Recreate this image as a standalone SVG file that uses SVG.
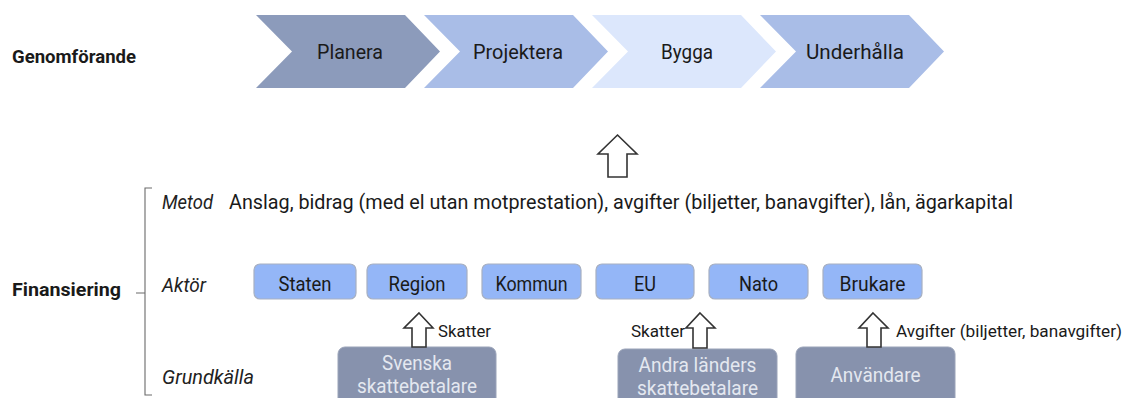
<svg xmlns="http://www.w3.org/2000/svg" width="1128" height="398" viewBox="0 0 1128 398">
<style>
text{font-family:Roboto,"Liberation Sans",sans-serif;fill:#1a1a1a}
.h{font-weight:bold;font-size:18px}
.ch{font-size:21px}
.it{font-style:italic;font-size:20px;fill:#222}
.m{font-size:20px}
.bl{font-size:20px}
.gt{font-size:20px;fill:#e4e8f0}
.sm{font-size:17px}
.blue{fill:#94b6f7;stroke:#a7b0c2;stroke-width:1.2}
.gray{fill:#8792ad;stroke:#9aa3b8;stroke-width:1}
.arr{fill:#fff;stroke:#333;stroke-width:1.6;stroke-linejoin:miter}
.br{fill:none;stroke:#6a6a6a;stroke-width:1.1}
</style>
<rect width="1128" height="398" fill="#fff"/>
<text class="h" x="12" y="63" textLength="124" lengthAdjust="spacingAndGlyphs">Genomförande</text>
<text class="h" x="12" y="296" textLength="109" lengthAdjust="spacingAndGlyphs">Finansiering</text>
<g id="planera">
<polygon points="256,15 405,15 440,51.5 405,88 256,88 292,51.5" fill="#8c9bbb"/>
<text class="ch" x="350" y="59" text-anchor="middle" textLength="66" lengthAdjust="spacingAndGlyphs">Planera</text>
</g>
<g id="projektera">
<polygon points="424,15 573,15 608,51.5 573,88 424,88 460,51.5" fill="#a9bde7"/>
<text class="ch" x="518" y="59" text-anchor="middle" textLength="90" lengthAdjust="spacingAndGlyphs">Projektera</text>
</g>
<g id="bygga">
<polygon points="592,15 741,15 776,51.5 741,88 592,88 628,51.5" fill="#dce7fc"/>
<text class="ch" x="687" y="59" text-anchor="middle" textLength="52" lengthAdjust="spacingAndGlyphs">Bygga</text>
</g>
<g id="underhalla">
<polygon points="760,15 909,15 944,51.5 909,88 760,88 796,51.5" fill="#a9bde7"/>
<text class="ch" x="855" y="59" text-anchor="middle" textLength="98" lengthAdjust="spacingAndGlyphs">Underhålla</text>
</g>
<g id="bracket">
<path class="br" d="M152,188 H145 V395 H152 M145,293 H136"/>
</g>
<g id="labels">
<text class="it" x="162" y="209" textLength="51" lengthAdjust="spacingAndGlyphs">Metod</text>
<text class="m" x="229" y="209" textLength="784" lengthAdjust="spacingAndGlyphs">Anslag, bidrag (med el utan motprestation), avgifter (biljetter, banavgifter), lån, ägarkapital</text>
<text class="it" x="162" y="292" textLength="44" lengthAdjust="spacingAndGlyphs">Aktör</text>
<text class="it" x="162" y="384" textLength="92" lengthAdjust="spacingAndGlyphs">Grundkälla</text>
</g>
<g id="staten"><rect class="blue" x="254" y="264" width="102" height="35" rx="6"/><text class="bl" x="305" y="291" text-anchor="middle" textLength="53" lengthAdjust="spacingAndGlyphs">Staten</text></g>
<g id="region"><rect class="blue" x="367" y="264" width="100" height="35" rx="6"/><text class="bl" x="417" y="291" text-anchor="middle" textLength="57" lengthAdjust="spacingAndGlyphs">Region</text></g>
<g id="kommun"><rect class="blue" x="482" y="264" width="99" height="35" rx="6"/><text class="bl" x="531.5" y="291" text-anchor="middle" textLength="72" lengthAdjust="spacingAndGlyphs">Kommun</text></g>
<g id="eu"><rect class="blue" x="596" y="264" width="98" height="35" rx="6"/><text class="bl" x="645" y="291" text-anchor="middle" textLength="22" lengthAdjust="spacingAndGlyphs">EU</text></g>
<g id="nato"><rect class="blue" x="709" y="264" width="99" height="35" rx="6"/><text class="bl" x="758.5" y="291" text-anchor="middle" textLength="39" lengthAdjust="spacingAndGlyphs">Nato</text></g>
<g id="brukare"><rect class="blue" x="823" y="264" width="99" height="35" rx="6"/><text class="bl" x="872.5" y="291" text-anchor="middle" textLength="66" lengthAdjust="spacingAndGlyphs">Brukare</text></g>
<g id="svenska"><rect class="gray" x="338" y="347" width="158" height="60" rx="7"/>
<text class="gt" x="417" y="370" text-anchor="middle" textLength="70" lengthAdjust="spacingAndGlyphs">Svenska</text>
<text class="gt" x="417" y="393" text-anchor="middle" textLength="120" lengthAdjust="spacingAndGlyphs">skattebetalare</text></g>
<g id="andra"><rect class="gray" x="618" y="349" width="159" height="60" rx="7"/>
<text class="gt" x="697.5" y="372" text-anchor="middle" textLength="118" lengthAdjust="spacingAndGlyphs">Andra länders</text>
<text class="gt" x="697.5" y="395" text-anchor="middle" textLength="121" lengthAdjust="spacingAndGlyphs">skattebetalare</text></g>
<g id="anvandare"><rect class="gray" x="796" y="347" width="159" height="60" rx="7"/>
<text class="gt" x="875.5" y="382" text-anchor="middle" textLength="90" lengthAdjust="spacingAndGlyphs">Användare</text></g>
<g id="connectors">
<polygon class="arr" points="617.5,135 637,154 627,154 627,177 608,177 608,154 598,154"/>
<polygon class="arr" points="419,313 433,328 426,328 426,347 412,347 412,328 404,328"/>
<polygon class="arr" points="700,313 715,328 707,328 707,348 693,348 693,328 686,328"/>
<polygon class="arr" points="873,313 888,328 881,328 881,347 867,347 867,328 859,328"/>
<text class="sm" x="438" y="337" textLength="53" lengthAdjust="spacingAndGlyphs">Skatter</text>
<text class="sm" x="631" y="337" textLength="54" lengthAdjust="spacingAndGlyphs">Skatter</text>
<text class="sm" x="896" y="337" textLength="226" lengthAdjust="spacingAndGlyphs">Avgifter (biljetter, banavgifter)</text>
</g>
</svg>
